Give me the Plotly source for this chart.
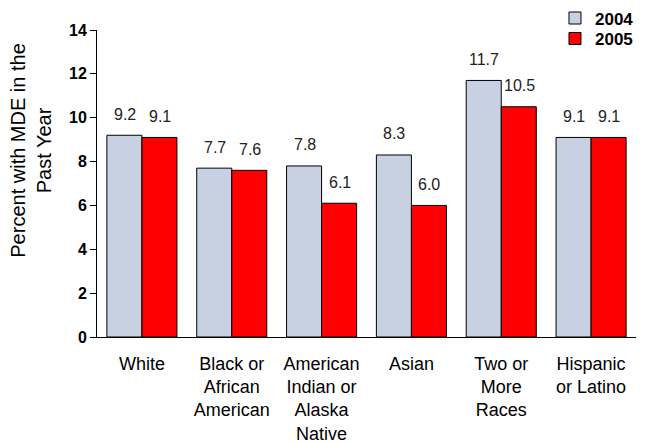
import plotly.graph_objects as go

categories = ["White", "Black or<br>African<br>American", "American<br>Indian or<br>Alaska<br>Native",
              "Asian", "Two or<br>More<br>Races", "Hispanic<br>or Latino"]
series_2004 = [9.2, 7.7, 7.8, 8.3, 11.7, 9.1]
series_2005 = [9.1, 7.6, 6.1, 6.0, 10.5, 9.1]
labels_2004 = ["9.2", "7.7", "7.8", "8.3", "11.7", "9.1"]
labels_2005 = ["9.1", "7.6", "6.1", "6.0", "10.5", "9.1"]
y_ticks = [0, 2, 4, 6, 8, 10, 12, 14]
y_title = "Percent with MDE in the<br>Past Year"

FONT = "Liberation Sans, Arial, sans-serif"

fig = go.Figure()
fig.add_trace(go.Bar(x=categories, y=series_2004, name="2004", legend="legend",
                     marker=dict(color="#C8D1E2", line=dict(color="black", width=1))))
fig.add_trace(go.Bar(x=categories, y=series_2005, name="2005", legend="legend2",
                     marker=dict(color="#FF0000", line=dict(color="black", width=1))))

for cat, v, t in zip(categories, series_2004, labels_2004):
    fig.add_annotation(x=cat, y=v, text=t, xshift=-17, yshift=21, showarrow=False,
                       font=dict(family=FONT, size=16, color="#222222"))
for cat, v, t in zip(categories, series_2005, labels_2005):
    fig.add_annotation(x=cat, y=v, text=t, xshift=18, yshift=21, showarrow=False,
                       font=dict(family=FONT, size=16, color="#222222"))

fig.add_annotation(xref="paper", yref="paper", x=-0.123, y=0.609, text=y_title,
                   textangle=-90, showarrow=False, xanchor="center", yanchor="middle",
                   font=dict(family=FONT, size=20, color="black"))

leg_common = dict(xref="container", yref="container", xanchor="left", yanchor="middle",
                  font=dict(family=FONT, size=17, color="black", weight="bold"),
                  bgcolor="rgba(0,0,0,0)", itemwidth=30)

fig.update_layout(
    width=639, height=436,
    margin=dict(l=89, r=11, t=22, b=107, autoexpand=False),
    paper_bgcolor="white", plot_bgcolor="white",
    barmode="group", bargap=0.22, bargroupgap=0,
    font=dict(family=FONT, color="black"),
    showlegend=True,
    legend=dict(x=0.856, y=0.976, **leg_common),
    legend2=dict(x=0.856, y=0.929, **leg_common),
    xaxis=dict(showline=True, linecolor="black", linewidth=1, ticks="",
               tickfont=dict(family=FONT, size=18, color="black"),
               ticklabelstandoff=10, showgrid=False),
    yaxis=dict(range=[0, 14], tickvals=y_ticks, showline=True, linecolor="black",
               linewidth=1, ticks="outside", ticklen=6, tickcolor="black",
               tickfont=dict(family=FONT, size=16, color="black", weight="bold"),
               showgrid=False, zeroline=False),
)

fig.write_html("out.html")
